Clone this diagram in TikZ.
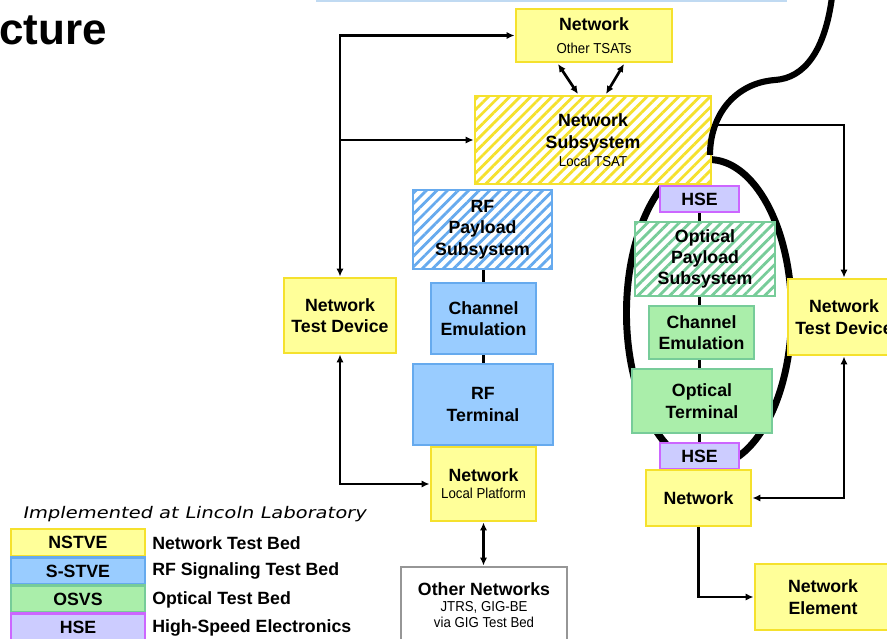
\documentclass[tikz,border=0pt]{standalone}
\usepackage{fontspec}
\setmainfont{Liberation Sans}
\newfontfamily\narrowfont{Liberation Sans}[FakeStretch=0.92]
\newfontfamily\slantfont{DejaVu Sans}[FakeStretch=1.22,FakeSlant=0.2]
\usetikzlibrary{arrows.meta,patterns.meta}

\definecolor{nsFill}{RGB}{255,255,153}
\definecolor{nsEdge}{RGB}{245,225,45}
\definecolor{rfFill}{RGB}{153,204,255}
\definecolor{rfEdge}{RGB}{102,170,238}
\definecolor{opFill}{RGB}{170,238,170}
\definecolor{opEdge}{RGB}{119,204,153}
\definecolor{hsFill}{RGB}{204,204,255}
\definecolor{hsEdge}{RGB}{204,102,255}
\definecolor{grayEdge}{RGB}{150,150,150}
\definecolor{stripBlue}{RGB}{192,218,242}

\newcommand\subtext[1]{{\narrowfont\mdseries\fontsize{10.8pt}{12pt}\selectfont #1}}

\begin{document}
\begin{tikzpicture}[x=0.75pt,y=-0.75pt,
  box/.style={draw, line width=2.2pt, align=center, inner sep=0pt,
    font=\fontsize{13.3pt}{16pt}\selectfont\bfseries},
  wh/.style 2 args={minimum width=#1*0.75pt, minimum height=#2*0.75pt},
  ns/.style={box, fill=nsFill, draw=nsEdge},
  rf/.style={box, fill=rfFill, draw=rfEdge},
  op/.style={box, fill=opFill, draw=opEdge},
  hs/.style={box, fill=hsFill, draw=hsEdge},
  gr/.style={box, fill=white, draw=grayEdge},
  hatched/.style={box, draw=#1, preaction={fill=white},
    pattern={Lines[angle=45,distance=5.6pt,line width=2.1pt]}, pattern color=#1},
  conn/.style={line width=2pt},
  arr/.style={conn, -{Latex[length=6pt,width=5.5pt]}},
  darr/.style={conn, {Latex[length=6pt,width=5.5pt]}-{Latex[length=6pt,width=5.5pt]}},
  legtext/.style={anchor=west, inner sep=0pt, font=\fontsize{13.3pt}{16pt}\selectfont\bfseries}
]
\useasboundingbox (0,0) rectangle (887,638);
\clip (0,0) rectangle (887,638);

% thin strip along the top edge
\fill[stripBlue] (316,0) rectangle (787,2.5);

% title fragment
\node[anchor=base west, inner sep=0pt, font=\fontsize{33pt}{36pt}\selectfont\bfseries] (title) at (-1,45) {cture};

% optical loop
\draw[line width=5.2pt] (709,313) ellipse [x radius=61.9pt, y radius=115.1pt];

% network boxes
\node[ns, wh={156}{53}] (tsat) at (594,35.5) {Network\\[1pt]\subtext{Other TSATs}};
\node[hatched=nsEdge, wh={236}{88}] (sub) at (593,140) {Network\\Subsystem\\[-2.5pt]\subtext{Local TSAT}};

% RF chain
\node[hatched=rfEdge, wh={139}{79}] (rfpay) at (482.5,229.5) {RF\\Payload\\Subsystem};
\node[rf, wh={105}{71}] (rfch) at (483.5,318.5) {Channel\\Emulation};
\node[rf, wh={140}{81}] (rfterm) at (483,404.5) {RF\\Terminal};
\node[ns, wh={105}{74}] (netlp) at (483.5,484) {Network\\[-3.25pt]\subtext{Local Platform}};
\node[gr, wh={166}{77}] (other) at (484,605.5) {Other Networks\\[-4pt]\subtext{JTRS, GIG-BE}\\[-4pt]\subtext{via GIG Test Bed}};

% test devices
\node[ns, wh={112}{75}] (ntdl) at (340,315.5) {Network\\Test Device};
\node[ns, wh={112}{76}] (ntdr) at (844,317) {Network\\Test Device};

% optical chain
\node[hs, wh={79}{26}] (hse1) at (699.5,199) {HSE};
\node[hatched=opEdge, wh={140}{74}] (opay) at (705,259) {Optical\\Payload\\Subsystem};
\node[op, wh={105}{53}] (och) at (701.5,332.5) {Channel\\Emulation};
\node[op, wh={140}{64}] (oterm) at (702,401) {Optical\\Terminal};
\node[hs, wh={79}{26}] (hse2) at (699.5,456) {HSE};
\node[ns, wh={105}{56}] (netr) at (698.5,498) {Network};
\node[ns, wh={136}{66}] (nel) at (823,597) {Network\\Element};

% connectors
\draw[darr] (tsat.west) -| (ntdl.north);
\draw[arr] (sub.west -| ntdl.north) -- (sub.west);
\coordinate (ta1) at (558,64);
\coordinate (sa1) at (578,94);
\coordinate (ta2) at (624,64);
\coordinate (sa2) at (606,94);
\draw[darr] (ta1) -- (sa1);
\draw[darr] (ta2) -- (sa2);
\draw[arr] ([yshift=11.25pt]sub.east) -| (ntdr.north);
\draw[darr] (ntdr.south) |- (netr.east);
\draw[darr] (ntdl.south) |- (netlp.west);
\draw[darr] (netlp.south) -- (netlp.south |- other.north);
\draw[arr] (netr.south) |- (nel.west);

\draw[conn] (rfch.north |- rfpay.south) -- (rfch.north);
\draw[conn] (rfch.south) -- (rfch.south |- rfterm.north);
\draw[conn] (hse1.south) -- (hse1.south |- opay.north);
\draw[conn] (hse1.south |- opay.south) -- (hse1.south |- och.north);
\draw[conn] (hse1.south |- och.south) -- (hse1.south |- oterm.north);
\draw[conn] (hse1.south |- oterm.south) -- (hse2.north);

% link running off the top edge
\draw[line width=4.6pt] (832,-3) .. controls (825,50) and (805,78) .. (775,80)
  .. controls (735,83) and (710,115) .. (710,155);

% legend
\node[anchor=base west, inner sep=0pt, font=\slantfont\fontsize{12pt}{14pt}\selectfont] (legtitle) at (22,518) {Implemented at Lincoln Laboratory};
\node[ns, wh={134}{27}] (lg1) at (78,542.5) {NSTVE};
\node[rf, wh={134}{27}] (lg2) at (78,571) {S-STVE};
\node[op, wh={134}{27}] (lg3) at (78,599) {OSVS};
\node[hs, wh={134}{27}] (lg4) at (78,627) {HSE};
\node[legtext] (lt1) at (152,543) {Network Test Bed};
\node[legtext] (lt2) at (152,571) {RF Signaling Test Bed};
\node[legtext] (lt3) at (152,599.5) {Optical Test Bed};
\node[legtext] (lt4) at (152,628) {High-Speed Electronics};
\end{tikzpicture}
\end{document}
